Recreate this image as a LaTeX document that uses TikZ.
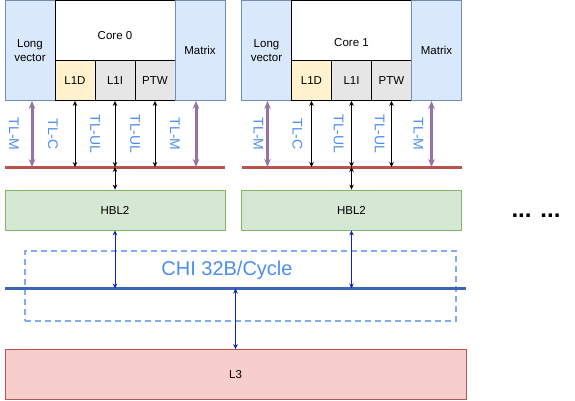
\documentclass[tikz,border=0pt]{standalone}
\usepackage{fontspec}
\setmainfont{Liberation Sans}
\usetikzlibrary{arrows.meta}
\definecolor{bluefill}{HTML}{DAE8FC}
\definecolor{bluedraw}{HTML}{6C8EBF}
\definecolor{yellowfill}{HTML}{FFF2CC}
\definecolor{grayfill}{HTML}{E6E6E6}
\definecolor{greenfill}{HTML}{D5E8D4}
\definecolor{greendraw}{HTML}{82B366}
\definecolor{redfill}{HTML}{F8CECC}
\definecolor{reddraw}{HTML}{B85450}
\definecolor{purpleline}{HTML}{9673A6}
\definecolor{busblue}{HTML}{3D65B5}
\definecolor{arrowblue}{HTML}{0A24B5}
\definecolor{labelblue}{HTML}{4C8DF5}
\definecolor{dashblue}{HTML}{7EAEF5}
\tikzset{
  box/.style={draw, line width=0.8pt, inner sep=0pt, font=\fontsize{11.5}{14}\selectfont, align=center},
  unitbox/.style={box, fill=bluefill, draw=bluedraw},
  cachebox/.style={box, draw=black},
  tllabel/.style={font=\fontsize{14}{16}\selectfont, text=labelblue, rotate=-90, inner sep=0pt},
  blackarrow/.style={draw=black, line width=1pt, {Stealth[length=5pt,width=4.5pt]}-{Stealth[length=5pt,width=4.5pt]}},
  purplearrow/.style={draw=purpleline, line width=3pt, {Stealth[length=8pt,width=6.5pt]}-{Stealth[length=8pt,width=6.5pt]}},
  bluearrow/.style={draw=arrowblue, line width=1pt, {Stealth[length=5pt,width=4.5pt]}-{Stealth[length=5pt,width=4.5pt]}},
  redbus/.style={draw=reddraw, line width=3pt},
  bluebus/.style={draw=busblue, line width=3pt},
}
\begin{document}
\begin{tikzpicture}[x=1pt,y=-1pt]
\useasboundingbox (0,0) rectangle (575,400);

% ---- Cluster 0 ----
\node[unitbox, minimum width=50pt, minimum height=100pt] (lv0) at (30,50.5) {Long\\vector};
\node[box, fill=white, minimum width=120pt, minimum height=60pt] (core0) at (115,30.5) {};
\node at (115,36) [font=\fontsize{11.5}{14}\selectfont] (core0t) {Core 0};
\node[cachebox, fill=yellowfill, minimum width=40pt, minimum height=40pt] (l1d0) at (75,80.5) {L1D};
\node[cachebox, fill=grayfill, minimum width=40pt, minimum height=40pt] (l1i0) at (115,80.5) {L1I};
\node[cachebox, fill=grayfill, minimum width=40pt, minimum height=40pt] (ptw0) at (155,80.5) {PTW};
\node[unitbox, minimum width=50pt, minimum height=100pt] (mx0) at (200,50.5) {Matrix};

\coordinate (rb0w) at (5,167);
\coordinate (rb0e) at (225,167);
\draw[redbus] (rb0w) -- (rb0e);

\node[box, fill=greenfill, draw=greendraw, minimum width=220pt, minimum height=40pt] (hbl0) at (115,210) {HBL2};

\coordinate (pa0) at (32,167);
\coordinate (pb0) at (196,167);
\draw[purplearrow] (lv0.south -| pa0) -- (pa0);
\draw[purplearrow] (mx0.south -| pb0) -- (pb0);
\draw[blackarrow] (l1d0.south) -- (l1d0.south |- rb0w);
\draw[blackarrow] (l1i0.south) -- (l1i0.south |- rb0w);
\draw[blackarrow] (ptw0.south) -- (ptw0.south |- rb0w);
\draw[blackarrow] (hbl0.north |- rb0w) -- (hbl0.north);

\node[tllabel] (tlm0a) at (14,134) {TL-M};
\node[tllabel] (tlc0) at (53,134) {TL-C};
\node[tllabel] (tlu0a) at (95,134) {TL-UL};
\node[tllabel] (tlu0b) at (135,134) {TL-UL};
\node[tllabel] (tlm0b) at (175,134) {TL-M};

% ---- Cluster 1 ----
\begin{scope}[xshift=236.5pt]
\node[unitbox, minimum width=50pt, minimum height=100pt] (lv1) at (30,50.5) {Long\\vector};
\node[box, fill=white, minimum width=120pt, minimum height=60pt] (core1) at (115,30.5) {};
\node at (115,43) [font=\fontsize{11.5}{14}\selectfont] (core1t) {Core 1};
\node[cachebox, fill=yellowfill, minimum width=40pt, minimum height=40pt] (l1d1) at (75,80.5) {L1D};
\node[cachebox, fill=grayfill, minimum width=40pt, minimum height=40pt] (l1i1) at (115,80.5) {L1I};
\node[cachebox, fill=grayfill, minimum width=40pt, minimum height=40pt] (ptw1) at (155,80.5) {PTW};
\node[unitbox, minimum width=50pt, minimum height=100pt] (mx1) at (200,50.5) {Matrix};

\coordinate (rb1w) at (5,167);
\coordinate (rb1e) at (225,167);
\draw[redbus] (rb1w) -- (rb1e);

\node[box, fill=greenfill, draw=greendraw, minimum width=220pt, minimum height=40pt] (hbl1) at (115,210) {HBL2};

\coordinate (pa1) at (31,167);
\coordinate (pb1) at (195,167);
\draw[purplearrow] (lv1.south -| pa1) -- (pa1);
\draw[purplearrow] (mx1.south -| pb1) -- (pb1);
\draw[blackarrow] (l1d1.south) -- (l1d1.south |- rb1w);
\draw[blackarrow] (l1i1.south) -- (l1i1.south |- rb1w);
\draw[blackarrow] (ptw1.south) -- (ptw1.south |- rb1w);
\draw[blackarrow] (hbl1.north |- rb1w) -- (hbl1.north);

\node[tllabel] (tlm1a) at (22,134) {TL-M};
\node[tllabel] (tlc1) at (61,134) {TL-C};
\node[tllabel] (tlu1a) at (102,134) {TL-UL};
\node[tllabel] (tlu1b) at (143,134) {TL-UL};
\node[tllabel] (tlm1b) at (182,134) {TL-M};
\end{scope}

% ---- dots ----
\node[font=\fontsize{24}{26}\selectfont\bfseries, anchor=base, inner sep=0pt] (dots) at (536,217) {... ...};

% ---- CHI ----
\node[draw=dashblue, line width=1.6pt, dash pattern=on 6pt off 4pt, minimum width=431pt, minimum height=70pt, inner sep=0pt] (chi) at (240.5,286) {};
\node[font=\fontsize{20}{22}\selectfont, text=labelblue, inner sep=0pt] (chit) at (227,270) {CHI 32B/Cycle};

\coordinate (bbw) at (5,288.5);
\coordinate (bbe) at (466,288.5);
\draw[bluebus] (bbw) -- (bbe);

\node[box, fill=redfill, draw=reddraw, minimum width=461pt, minimum height=50pt] (l3) at (235.5,374.5) {L3};

\draw[bluearrow] (hbl0.south) -- (hbl0.south |- bbw);
\draw[bluearrow] (hbl1.south) -- (hbl1.south |- bbw);
\draw[bluearrow] (l3.north |- bbw) -- (l3.north);
\end{tikzpicture}
\end{document}
